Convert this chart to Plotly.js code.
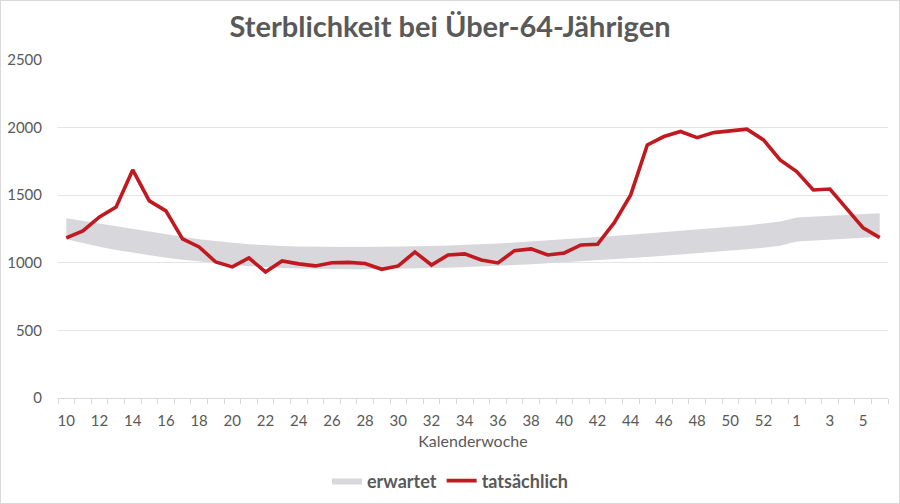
<!DOCTYPE html>
<html>
<head>
<meta charset="utf-8">
<script src="https://cdn.plot.ly/plotly-3.0.1.min.js"></script>
<style>
  html, body { margin: 0; padding: 0; background: #fff; }
  #chart { width: 898px; height: 502px; border: 1px solid #d9d9d9; }
</style>
</head>
<body>
<div id="chart"></div>
<script>
// Kalenderwochen (KW 10 bis 53, dann 1 bis 6)
const weeks = [10,11,12,13,14,15,16,17,18,19,20,21,22,23,24,25,26,27,28,29,30,31,32,33,34,35,36,37,38,39,40,41,42,43,44,45,46,47,48,49,50,51,52,53,1,2,3,4,5,6];

// erwartet: untere und obere Grenze des Bandes
const expectedLow = [1175,1145,1118,1095,1075,1055,1038,1022,1008,996,985,975,967,961,957,954,953,953,953,954,956,958,961,964,968,972,977,983,989,996,1003,1010,1018,1026,1035,1043,1052,1061,1070,1080,1090,1100,1112,1127,1157,1163,1170,1177,1185,1193];
const expectedHigh = [1330,1310,1290,1268,1248,1228,1210,1192,1175,1160,1148,1138,1130,1124,1120,1117,1116,1116,1117,1118,1120,1122,1125,1128,1132,1137,1143,1150,1157,1165,1173,1181,1190,1199,1208,1217,1226,1235,1245,1255,1265,1275,1290,1305,1335,1341,1347,1353,1359,1366];

// tatsächlich
const actual = [1184,1236,1339,1413,1687,1458,1384,1177,1117,1006,970,1036,932,1014,992,977,1000,1003,995,952,977,1080,984,1058,1066,1021,999,1090,1103,1058,1073,1132,1137,1295,1502,1872,1934,1971,1926,1963,1976,1988,1909,1761,1675,1539,1546,1406,1258,1186];

const xIdx = weeks.map((w, i) => i);
const labelIdx = xIdx.filter(i => i % 2 === 0);
const labelText = labelIdx.map(i => String(weeks[i]));
const boundaries = weeks.map((w, i) => i - 0.5).concat([weeks.length - 0.5]);

const grey = '#595959';
const font = 'Lato, "Open Sans", sans-serif';

const traces = [
  {
    x: xIdx, y: expectedLow, type: 'scatter', mode: 'lines',
    line: { width: 0, color: 'rgba(0,0,0,0)' },
    showlegend: false, hoverinfo: 'skip'
  },
  {
    x: xIdx, y: expectedHigh, type: 'scatter', mode: 'lines',
    name: 'erwartet', fill: 'tonexty', fillcolor: '#d8d7db',
    line: { width: 0, color: '#d8d7db' }
  },
  {
    x: xIdx, y: actual, type: 'scatter', mode: 'lines',
    name: 'tatsächlich',
    line: { width: 3.6, color: '#c0191f' }
  },
  {
    x: [0], y: [null], xaxis: 'x2', type: 'scatter', mode: 'lines',
    showlegend: false, hoverinfo: 'skip'
  }
];

const layout = {
  width: 898, height: 502,
  margin: { l: 57, r: 11, t: 59, b: 105 },
  paper_bgcolor: '#ffffff', plot_bgcolor: '#ffffff',
  font: { family: font, color: grey, size: 14 },
  title: {
    text: '<b>Sterblichkeit bei Über-64-Jährigen</b>',
    font: { family: font, size: 29, color: grey },
    x: 0.5, xanchor: 'center', xref: 'container',
    y: 0.949, yref: 'container', yanchor: 'middle'
  },
  xaxis: {
    range: [-0.5, weeks.length - 0.5],
    tickmode: 'array', tickvals: labelIdx, ticktext: labelText,
    ticks: 'outside', ticklen: 9, tickcolor: 'rgba(0,0,0,0)',
    showgrid: false, zeroline: false,
    showline: true, linecolor: '#d9d9d9', linewidth: 1,
    tickfont: { family: font, size: 15, color: grey },
    title: { text: 'Kalenderwoche', font: { family: font, size: 16, color: grey }, standoff: 7 }
  },
  xaxis2: {
    overlaying: 'x', anchor: 'y', side: 'bottom',
    range: [-0.5, weeks.length - 0.5],
    tickmode: 'array', tickvals: boundaries,
    ticks: 'outside', ticklen: 5, tickcolor: '#d9d9d9', tickwidth: 1,
    showticklabels: false, showgrid: false, zeroline: false, showline: false
  },
  yaxis: {
    range: [0, 2500], tickvals: [0, 500, 1000, 1500, 2000, 2500],
    showgrid: true, gridcolor: '#e4e4e4', gridwidth: 1,
    zeroline: false, showline: false,
    ticks: 'outside', ticklen: 12, tickcolor: 'rgba(0,0,0,0)',
    tickfont: { family: font, size: 15, color: grey }
  },
  showlegend: true,
  legend: {
    orientation: 'h', x: 0.5, xanchor: 'center', xref: 'container',
    y: 0.044, yref: 'container', yanchor: 'middle',
    font: { family: font, size: 18, color: grey, weight: 'bold' },
    itemwidth: 30, traceorder: 'normal'
  }
};

Plotly.newPlot('chart', traces, layout, { displayModeBar: false, staticPlot: true });
</script>
</body>
</html>
